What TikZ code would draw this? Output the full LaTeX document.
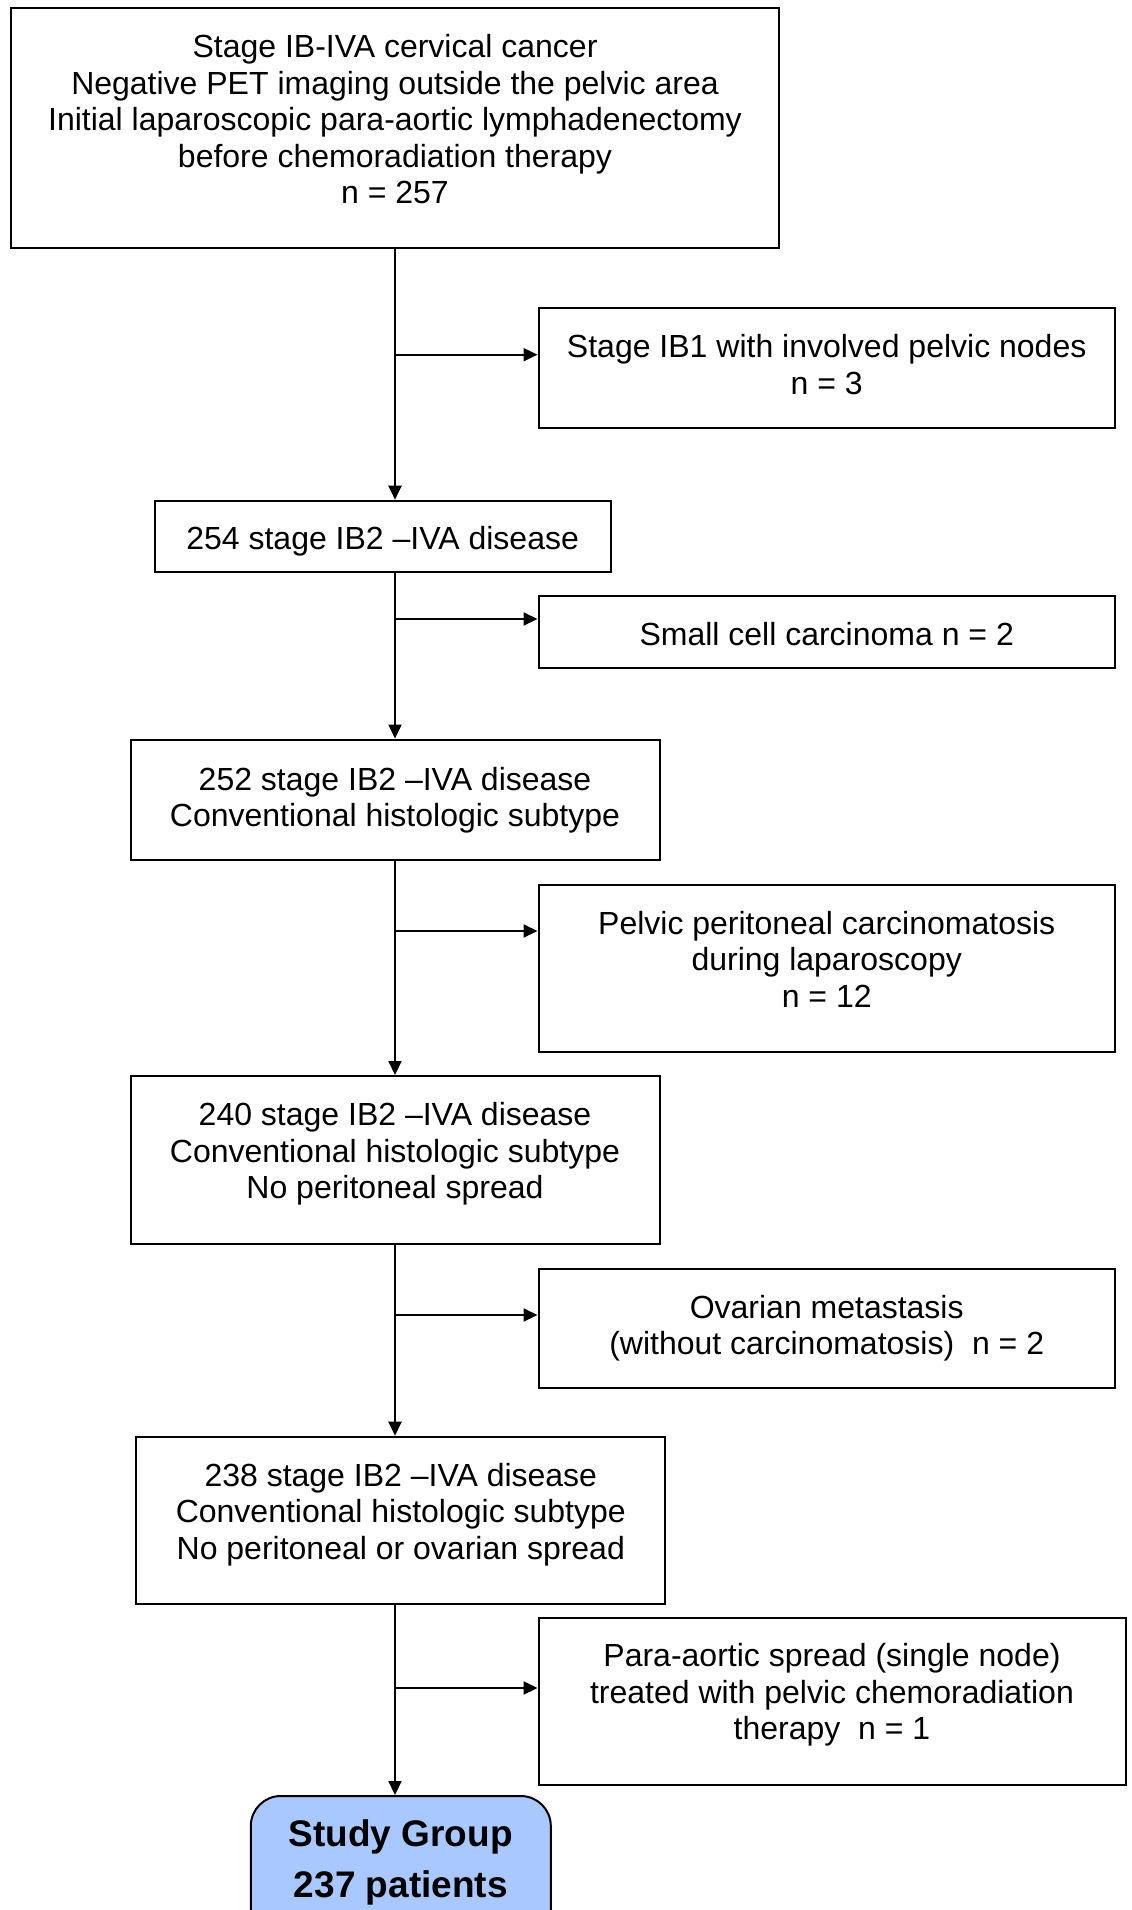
\documentclass[tikz,border=0pt]{standalone}
\usepackage{fontspec}
\setmainfont{Liberation Sans}
\usetikzlibrary{arrows.meta,calc}
\definecolor{sgfill}{RGB}{168,200,255}
\begin{document}
\begin{tikzpicture}[x=0.5pt,y=-0.5pt,
  box/.style={draw=black,line width=1pt,rectangle,inner sep=0pt,anchor=north west},
  txt/.style={align=center,inner sep=0pt,anchor=north,font=\fontsize{16}{18.3}\selectfont},
  sgtxt/.style={align=center,inner sep=0pt,anchor=north,font=\fontsize{18.5}{25.5}\selectfont\bfseries},
  flow/.style={line width=1pt,-{Triangle[length=7pt,width=6.5pt]}},
  sgbox/.style={draw=black,line width=1pt,fill=sgfill,rounded corners=15pt,inner sep=0pt,anchor=north west}]
\useasboundingbox (0,0) rectangle (1131,1910);
% main column boxes
\node[box,minimum width=384pt,minimum height=120pt] (b1) at (10,7) {};
\node[box,minimum width=228pt,minimum height=35.5pt] (b2) at (153.6,499.7) {};
\node[box,minimum width=264.5pt,minimum height=60.3pt] (b3) at (129.5,738.6) {};
\node[box,minimum width=264.5pt,minimum height=84pt] (b4) at (129.5,1075) {};
\node[box,minimum width=264.5pt,minimum height=83.5pt] (b5) at (135.3,1435.7) {};
\node[sgbox,minimum width=150pt,minimum height=75pt] (sg) at (249.8,1795) {};
% side boxes
\node[box,minimum width=288.2pt,minimum height=59.8pt] (s1) at (537.5,307) {};
\node[box,minimum width=288.2pt,minimum height=36pt] (s2) at (537.5,594.7) {};
\node[box,minimum width=288.2pt,minimum height=83.5pt] (s3) at (537.5,883.6) {};
\node[box,minimum width=288.2pt,minimum height=59.8pt] (s4) at (537.5,1267.5) {};
\node[box,minimum width=293.5pt,minimum height=83.6pt] (s5) at (537.5,1617) {};
% texts
\node[txt] (t1) at ([yshift=-13.5pt]b1.north) {Stage IB-IVA cervical cancer\\Negative PET imaging outside the pelvic area\\Initial laparoscopic para-aortic lymphadenectomy\\before chemoradiation therapy\\n = 257};
\node[txt] (t2) at ([yshift=-13pt]b2.north) {254 stage IB2 –IVA disease};
\node[txt] (t3) at ([yshift=-14pt]b3.north) {252 stage IB2 –IVA disease\\Conventional histologic subtype};
\node[txt] (t4) at ([yshift=-13.5pt]b4.north) {240 stage IB2 –IVA disease\\Conventional histologic subtype\\No peritoneal spread};
\node[txt] (t5) at ([yshift=-13.5pt]b5.north) {238 stage IB2 –IVA disease\\Conventional histologic subtype\\No peritoneal or ovarian spread};
\node[txt] (u1) at ([yshift=-13.5pt]s1.north) {Stage IB1 with involved pelvic nodes\\n = 3};
\node[txt] (u2) at ([yshift=-13.5pt]s2.north) {Small cell carcinoma n = 2};
\node[txt] (u3) at ([yshift=-13.5pt]s3.north) {Pelvic peritoneal carcinomatosis\\during laparoscopy\\n = 12};
\node[txt] (u4) at ([yshift=-13.5pt]s4.north) {Ovarian metastasis\\(without carcinomatosis)~ n = 2};
\node[txt] (u5) at ([yshift=-13pt]s5.north) {Para-aortic spread (single node)\\treated with pelvic chemoradiation\\therapy~ n = 1};
\node[sgtxt] (tg) at ([yshift=-12.2pt]sg.north) {Study Group\\237 patients};
% junction points on the main line
\coordinate (j1) at (394,354.7);
\coordinate (j2) at (394,619);
\coordinate (j3) at (394,931);
\coordinate (j4) at (394,1315);
\coordinate (j5) at (394,1688);
% vertical connectors
\draw[flow] (b1.south) -- (b1.south |- b2.north);
\draw[flow] (b1.south |- b2.south) -- (b1.south |- b3.north);
\draw[flow] (b1.south |- b3.south) -- (b1.south |- b4.north);
\draw[flow] (b1.south |- b4.south) -- (b1.south |- b5.north);
\draw[flow] (b1.south |- b5.south) -- (b1.south |- sg.north);
% horizontal connectors
\draw[flow] (j1) -- (j1 -| s1.west);
\draw[flow] (j2) -- (j2 -| s2.west);
\draw[flow] (j3) -- (j3 -| s3.west);
\draw[flow] (j4) -- (j4 -| s4.west);
\draw[flow] (j5) -- (j5 -| s5.west);
\end{tikzpicture}
\end{document}
